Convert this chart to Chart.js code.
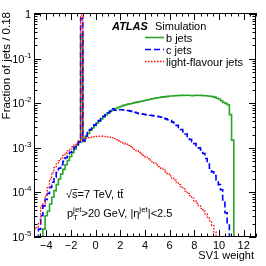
<!DOCTYPE html>
<html>
<head>
<meta charset="utf-8">
<script src="https://cdn.jsdelivr.net/npm/chart.js@4.4.1/dist/chart.umd.min.js"></script>
<style>
  body { margin: 0; background: #fff; }
  #sv1Chart { display: block; }
</style>
</head>
<body>
<canvas id="sv1Chart" width="266" height="266"></canvas>
<script>
// histogram binning: 100 bins of 0.18 from -5 to 13
const binStart = -5;
const binWidth = 0.18;

const bJets = [
  0, 0, 0, 0, 1.5e-5, 3e-5, 3.8e-5, 5.5e-5, 7.8e-5, 1.1e-4,
  1.5e-4, 2.0e-4, 2.6e-4, 3.3e-4, 4.2e-4, 5.2e-4, 6.4e-4, 7.8e-4, 9.5e-4, 1.15e-3,
  1.35e-3, 0.36, 1.4e-3, 1.8e-3, 2.1e-3, 2.5e-3, 2.8e-3, 3.2e-3, 3.6e-3, 4.0e-3,
  4.5e-3, 5.0e-3, 5.5e-3, 6.1e-3, 6.7e-3, 7.1e-3, 7.5e-3, 7.9e-3, 8.3e-3, 8.6e-3,
  9.0e-3, 9.3e-3, 9.6e-3, 9.8e-3, 1.01e-2, 1.04e-2, 1.07e-2, 1.09e-2, 1.12e-2, 1.15e-2,
  1.18e-2, 1.21e-2, 1.24e-2, 1.27e-2, 1.30e-2, 1.33e-2, 1.36e-2, 1.38e-2, 1.40e-2, 1.42e-2,
  1.44e-2, 1.46e-2, 1.47e-2, 1.48e-2, 1.49e-2, 1.50e-2, 1.51e-2, 1.51e-2, 1.52e-2, 1.52e-2,
  1.50e-2, 1.48e-2, 1.51e-2, 1.52e-2, 1.51e-2, 1.50e-2, 1.49e-2, 1.48e-2, 1.46e-2, 1.45e-2,
  1.42e-2, 1.38e-2, 1.30e-2, 1.25e-2, 1.15e-2, 1.05e-2, 1.0e-2, 0.93e-2, 5.6e-3, 1.5e-3,
  0, 0, 0, 0, 0, 0, 0, 0, 0, 0
];

const cJets = [
  0, 0, 1.5e-5, 3e-5, 5e-5, 7e-5, 9.5e-5, 1.3e-4, 1.7e-4, 2.2e-4,
  2.8e-4, 3.5e-4, 4.2e-4, 5e-4, 6e-4, 6.9e-4, 8e-4, 9.2e-4, 1.05e-3, 1.2e-3,
  1.35e-3, 0.81, 1.45e-3, 1.85e-3, 2.2e-3, 2.6e-3, 2.9e-3, 3.3e-3, 3.7e-3, 4.1e-3,
  4.6e-3, 5.1e-3, 5.6e-3, 6.1e-3, 6.6e-3, 7.6e-3, 7.0e-3, 7.1e-3, 7.2e-3, 7.2e-3,
  7.1e-3, 7.0e-3, 6.9e-3, 6.7e-3, 6.5e-3, 6.3e-3, 6.1e-3, 5.9e-3, 5.8e-3, 5.7e-3,
  5.6e-3, 5.5e-3, 5.4e-3, 5.3e-3, 5.2e-3, 5.1e-3, 5.0e-3, 4.9e-3, 4.7e-3, 4.5e-3,
  4.3e-3, 4.1e-3, 3.8e-3, 3.5e-3, 3.2e-3, 2.9e-3, 2.6e-3, 2.3e-3, 2.05e-3, 1.8e-3,
  1.55e-3, 1.38e-3, 1.25e-3, 1.12e-3, 1.0e-3, 9e-4, 7.5e-4, 5.8e-4, 4.6e-4, 3.5e-4,
  2.9e-4, 2.4e-4, 1.9e-4, 1.5e-4, 1.15e-4, 6e-5, 3.5e-5, 2e-5, 0, 0,
  0, 0, 0, 0, 0, 0, 0, 0, 0, 0
];

const lightJets = [
  1.5e-5, 1.7e-5, 2e-5, 5e-5, 5.5e-5, 8.5e-5, 1.3e-4, 2.0e-4, 2.8e-4, 3.6e-4,
  4.4e-4, 5.2e-4, 6e-4, 6.8e-4, 7.7e-4, 8.6e-4, 9.5e-4, 1.06e-3, 1.17e-3, 1.3e-3,
  1.45e-3, 0.96, 1.6e-3, 1.65e-3, 1.7e-3, 1.75e-3, 1.78e-3, 1.8e-3, 1.82e-3, 1.83e-3,
  1.83e-3, 1.82e-3, 1.8e-3, 1.77e-3, 1.73e-3, 1.68e-3, 1.61e-3, 1.53e-3, 1.45e-3, 1.37e-3,
  1.29e-3, 1.21e-3, 1.14e-3, 1.07e-3, 1.0e-3, 9.3e-4, 8.6e-4, 7.9e-4, 7.3e-4, 6.8e-4,
  6.2e-4, 5.7e-4, 5.3e-4, 4.9e-4, 4.5e-4, 4.1e-4, 3.8e-4, 3.5e-4, 3.2e-4, 2.9e-4,
  2.6e-4, 2.35e-4, 2.1e-4, 1.9e-4, 1.7e-4, 1.5e-4, 1.35e-4, 1.2e-4, 1.07e-4, 9.5e-5,
  8.5e-5, 7.5e-5, 6.5e-5, 5.7e-5, 5e-5, 4.4e-5, 3.8e-5, 3.3e-5, 2.8e-5, 2.3e-5,
  1.8e-5, 1.3e-5, 0, 0, 0, 0, 0, 0, 0, 0,
  0, 0, 0, 0, 0, 0, 0, 0, 0, 0
];

const xTickLabels = [-4, -2, 0, 2, 4, 6, 8, 10, 12];
const yTickPowers = [0, -1, -2, -3, -4, -5];

const xMin = -5, xMax = 13;
const yMin = 1e-5, yMax = 1.07;
const emptyBin = 1e-7; // empty bins go below the axis, like ROOT does on log scale

const FONT = '"Liberation Sans", Arial, sans-serif';
const GREEN = '#2aa52a';

function histPoints(values) {
  const pts = values.map((v, i) => ({ x: binStart + i * binWidth, y: v > 0 ? v : emptyBin }));
  const last = values[values.length - 1];
  pts.push({ x: binStart + values.length * binWidth, y: last > 0 ? last : emptyBin });
  return pts;
}

// draw a run of text pieces (normal / super / subscript), returns end x
function drawRuns(c, x, y, runs) {
  runs.forEach(r => {
    c.font = (r.style || '') + ' ' + (r.size || 11) + 'px ' + FONT;
    c.fillText(r.t, x, y + (r.dy || 0));
    const w = c.measureText(r.t).width;
    if (r.bar) {
      c.fillRect(x + 0.5, y - 9, w - 0.5, 0.8);
    }
    if (!r.noAdvance) x += w;
  });
  return x;
}

const atlasDecor = {
  id: 'atlasDecor',
  afterDraw(chart) {
    const c = chart.ctx;
    const { left, right, top, bottom } = chart.chartArea;
    const xs = chart.scales.x;
    const ys = chart.scales.y;
    c.save();
    c.fillStyle = '#000';
    c.strokeStyle = '#000';
    c.lineWidth = 1;

    // frame
    c.strokeRect(left + 0.5, top + 0.5, right - left - 1, bottom - top - 1);

    // x ticks, inside on top and bottom
    c.beginPath();
    for (let v = xMin; v <= xMax + 1e-9; v += 0.5) {
      const px = Math.round(xs.getPixelForValue(v)) + 0.5;
      const major = xTickLabels.includes(v);
      const len = major ? 7 : 3.5;
      c.moveTo(px, bottom); c.lineTo(px, bottom - len);
      c.moveTo(px, top); c.lineTo(px, top + len);
    }
    // y ticks, log minor ticks
    for (let p = -5; p <= 0; p++) {
      for (let m = 1; m <= 9; m++) {
        const v = m * Math.pow(10, p);
        if (v > yMax) continue;
        const py = Math.round(ys.getPixelForValue(v)) + 0.5;
        const len = m === 1 ? 7 : 3.5;
        c.moveTo(left, py); c.lineTo(left + len, py);
        c.moveTo(right, py); c.lineTo(right - len, py);
      }
    }
    c.stroke();

    // x tick labels
    c.font = '11px ' + FONT;
    c.textAlign = 'center';
    c.textBaseline = 'alphabetic';
    xTickLabels.forEach(n => {
      const txt = n < 0 ? '\u2212' + (-n) : String(n);
      c.fillText(txt, xs.getPixelForValue(n), 249);
    });

    // y tick labels 1, 10^-1 ...
    c.textAlign = 'left';
    yTickPowers.forEach(p => {
      const py = ys.getPixelForValue(Math.pow(10, p));
      if (p === 0) {
        c.font = '11px ' + FONT;
        c.textAlign = 'right';
        c.fillText('1', 31, py + 4);
        c.textAlign = 'left';
        return;
      }
      c.font = '8px ' + FONT;
      const sup = '-' + (-p);
      const supW = c.measureText(sup).width;
      c.font = '11px ' + FONT;
      const baseW = c.measureText('10').width;
      const x0 = 31.5 - supW - baseW;
      drawRuns(c, x0, py + 4, [
        { t: '10', size: 11 },
        { t: sup, size: 8, dy: -5 }
      ]);
    });

    // axis titles
    c.font = '11px ' + FONT;
    c.textAlign = 'right';
    c.fillText('SV1 weight', 254, 259);
    c.save();
    c.font = '11.5px ' + FONT;
    c.translate(10, 12);
    c.rotate(-Math.PI / 2);
    c.fillText('Fraction of jets / 0.18', 0, 0);
    c.restore();

    // ATLAS label
    c.textAlign = 'left';
    c.font = 'italic bold 11px ' + FONT;
    c.fillText('ATLAS', 112, 30);
    c.font = '11px ' + FONT;
    c.fillText('Simulation', 155, 30);

    // legend
    const legendRows = [
      { label: 'b jets', color: GREEN, dash: [], width: 1.6, y: 37 },
      { label: 'c jets', color: '#0000ff', dash: [6, 3], width: 1.6, y: 49 },
      { label: 'light-flavour jets', color: '#ff0000', dash: [1.5, 1.5], width: 1.3, y: 61 }
    ];
    legendRows.forEach(r => {
      c.save();
      c.strokeStyle = r.color;
      c.lineWidth = r.width;
      c.setLineDash(r.dash);
      c.beginPath();
      c.moveTo(145, r.y + 0.5);
      c.lineTo(164, r.y + 0.5);
      c.stroke();
      c.restore();
      c.font = '11px ' + FONT;
      c.fillText(r.label, 166, r.y + 4.5);
    });

    // annotations
    drawRuns(c, 66, 198, [
      { t: '\u221A', size: 11 },
      { t: 's', size: 11, bar: true },
      { t: '=7 TeV, t', size: 11 },
      { t: 't', size: 11, bar: true }
    ]);
    drawRuns(c, 67, 217, [
      { t: 'p', size: 11 },
      { t: 'T', size: 8, dy: 3, noAdvance: true },
      { t: 'jet', size: 8, dy: -5 },
      { t: '>20 GeV, |\u03B7', size: 11 },
      { t: 'jet', size: 8, dy: -5 },
      { t: '|<2.5', size: 11 }
    ]);

    c.restore();
  }
};

const ctx = document.getElementById('sv1Chart').getContext('2d');

const chart = new Chart(ctx, {
  type: 'line',
  data: {
    datasets: [
      {
        label: 'b jets',
        data: histPoints(bJets),
        borderColor: GREEN,
        borderWidth: 1.6,
        stepped: true,
        pointRadius: 0,
        fill: false,
        order: 2
      },
      {
        label: 'c jets',
        data: histPoints(cJets),
        borderColor: '#0000ff',
        borderWidth: 1.6,
        borderDash: [6, 3],
        stepped: true,
        pointRadius: 0,
        fill: false,
        order: 1
      },
      {
        label: 'light-flavour jets',
        data: histPoints(lightJets),
        borderColor: '#ff0000',
        borderWidth: 1.3,
        borderDash: [1.5, 1.5],
        stepped: true,
        pointRadius: 0,
        fill: false,
        order: 0
      }
    ]
  },
  options: {
    responsive: false,
    animation: false,
    layout: { padding: { left: 34, right: 10, top: 13, bottom: 29 } },
    scales: {
      x: { type: 'linear', min: xMin, max: xMax, display: false },
      y: { type: 'logarithmic', min: yMin, max: yMax, display: false }
    },
    plugins: {
      legend: { display: false },
      tooltip: { enabled: false }
    }
  },
  plugins: [atlasDecor]
});
</script>
</body>
</html>
